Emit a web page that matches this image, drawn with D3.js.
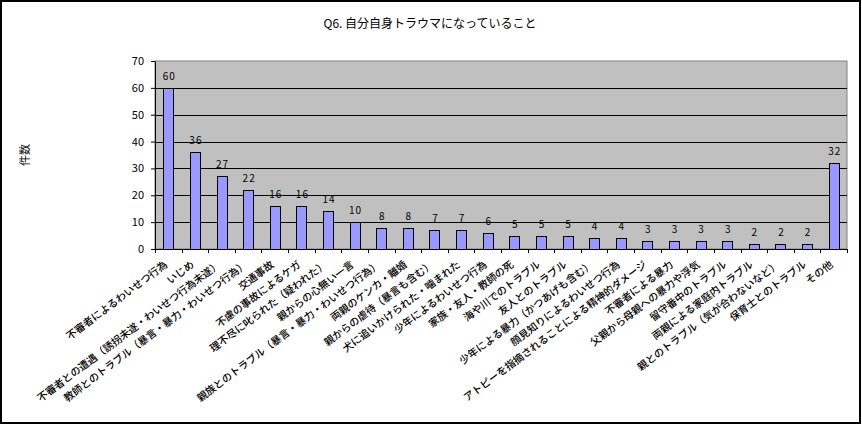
<!DOCTYPE html>
<html>
<head>
<meta charset="utf-8">
<script src="https://cdn.jsdelivr.net/npm/d3@7"></script>
<style>
  body { margin: 0; background: #fff; }
  svg text { font-family: "Noto Sans CJK JP", "Noto Sans", sans-serif; fill: #000; }
</style>
</head>
<body>
<svg id="chart" width="862" height="425"></svg>
<script>
// data
const categories = [
  "不審者によるわいせつ行為",
  "いじめ",
  "不審者との遭遇（誘拐未遂・わいせつ行為未遂）",
  "教師とのトラブル（暴言・暴力・わいせつ行為）",
  "交通事故",
  "不慮の事故によるケガ",
  "理不尽に叱られた（疑われた）",
  "親からの心無い一言",
  "親族とのトラブル（暴言・暴力・わいせつ行為）",
  "両親のケンカ・離婚",
  "親からの虐待（暴言も含む）",
  "犬に追いかけられた・噛まれた",
  "少年によるわいせつ行為",
  "家族・友人・教師の死",
  "海や川でのトラブル",
  "友人とのトラブル",
  "少年による暴力（かつあげも含む）",
  "顔見知りによるわいせつ行為",
  "アトピーを指摘されることによる精神的ダメージ",
  "不審者による暴力",
  "父親から母親への暴力や浮気",
  "留守番中のトラブル",
  "両親による家庭内トラブル",
  "親とのトラブル（気が合わないなど）",
  "保育士とのトラブル",
  "その他"
];
const counts = [60, 36, 27, 22, 16, 16, 14, 10, 8, 8, 7, 7, 6, 5, 5, 5, 4, 4, 3, 3, 3, 3, 2, 2, 2, 32];
const yTicks = [0, 10, 20, 30, 40, 50, 60, 70];
const title = "Q6. 自分自身トラウマになっていること";
const yTitle = "件数";

const width = 862, height = 425;
const margin = {top: 61, right: 15, bottom: 176, left: 155};
const plotW = width - margin.left - margin.right;
const plotH = height - margin.top - margin.bottom;

const svg = d3.select("#chart");

// outer frame
svg.append("rect")
  .attr("x", 1).attr("y", 1)
  .attr("width", width - 3).attr("height", height - 3)
  .attr("fill", "#fff").attr("stroke", "#000").attr("stroke-width", 2);

svg.append("text")
  .attr("x", 430).attr("y", 28)
  .attr("text-anchor", "middle")
  .attr("font-size", 12)
  .text(title);

svg.append("text")
  .attr("transform", "translate(29,155) rotate(-90)")
  .attr("text-anchor", "middle")
  .attr("font-size", 11)
  .text(yTitle);

const xTick = d3.scaleBand().domain(categories).range([0, plotW]);
const y = d3.scaleLinear().domain([0, 70]).range([plotH, 0]);

const g = svg.append("g").attr("transform", `translate(${margin.left},${margin.top})`);

// plot area
g.append("rect")
  .attr("x", 0).attr("y", 0)
  .attr("width", plotW).attr("height", plotH)
  .attr("fill", "#c0c0c0").attr("stroke", "#808080").attr("stroke-width", 1);

// gridlines
g.selectAll(".grid")
  .data(yTicks.filter(v => v > 0 && v < 70))
  .join("line")
  .attr("x1", 0).attr("x2", plotW)
  .attr("y1", d => Math.round(y(d)) + 0.5).attr("y2", d => Math.round(y(d)) + 0.5)
  .attr("stroke", "#000");

// bars
g.selectAll(".bar")
  .data(counts)
  .join("rect")
  .attr("x", (d, i) => Math.round(xTick(categories[i]) + xTick.bandwidth() / 2 - 5) + 0.5)
  .attr("y", d => Math.round(y(d)) + 0.5)
  .attr("width", 10)
  .attr("height", d => plotH - Math.round(y(d)))
  .attr("fill", "#9999ff").attr("stroke", "#000").attr("stroke-width", 1);

// value labels
g.selectAll(".val")
  .data(counts)
  .join("text")
  .attr("x", (d, i) => xTick(categories[i]) + xTick.bandwidth() / 2 + 1)
  .attr("y", d => y(d) - 8)
  .attr("text-anchor", "middle")
  .attr("font-size", 10)
  .attr("letter-spacing", 1)
  .text(d => d);

// y axis
const yAxis = g.append("g")
  .call(d3.axisLeft(y).tickValues(yTicks).tickSize(4).tickSizeOuter(0).tickPadding(7));
yAxis.selectAll("path, line").attr("stroke", "#000");
yAxis.selectAll("text").attr("font-size", 11).attr("font-family", "\"Noto Sans\", sans-serif");

// x axis, ticks between categories
const xAxisG = g.append("g").attr("transform", `translate(0,${plotH})`);
xAxisG.append("line")
  .attr("x1", 0).attr("x2", plotW).attr("y1", 0.5).attr("y2", 0.5)
  .attr("stroke", "#000");
xAxisG.selectAll(".tk")
  .data(d3.range(categories.length + 1))
  .join("line")
  .attr("x1", i => Math.round(i * xTick.step()) + 0.5)
  .attr("x2", i => Math.round(i * xTick.step()) + 0.5)
  .attr("y1", 0).attr("y2", 4)
  .attr("stroke", "#000");

xAxisG.selectAll(".lbl")
  .data(categories)
  .join("text")
  .attr("transform", d => `translate(${xTick(d) + xTick.bandwidth() / 2},17) rotate(-37)`)
  .attr("text-anchor", "end")
  .attr("font-size", 10.3)
  .attr("font-weight", 500)
  .text(d => d);
</script>
</body>
</html>
